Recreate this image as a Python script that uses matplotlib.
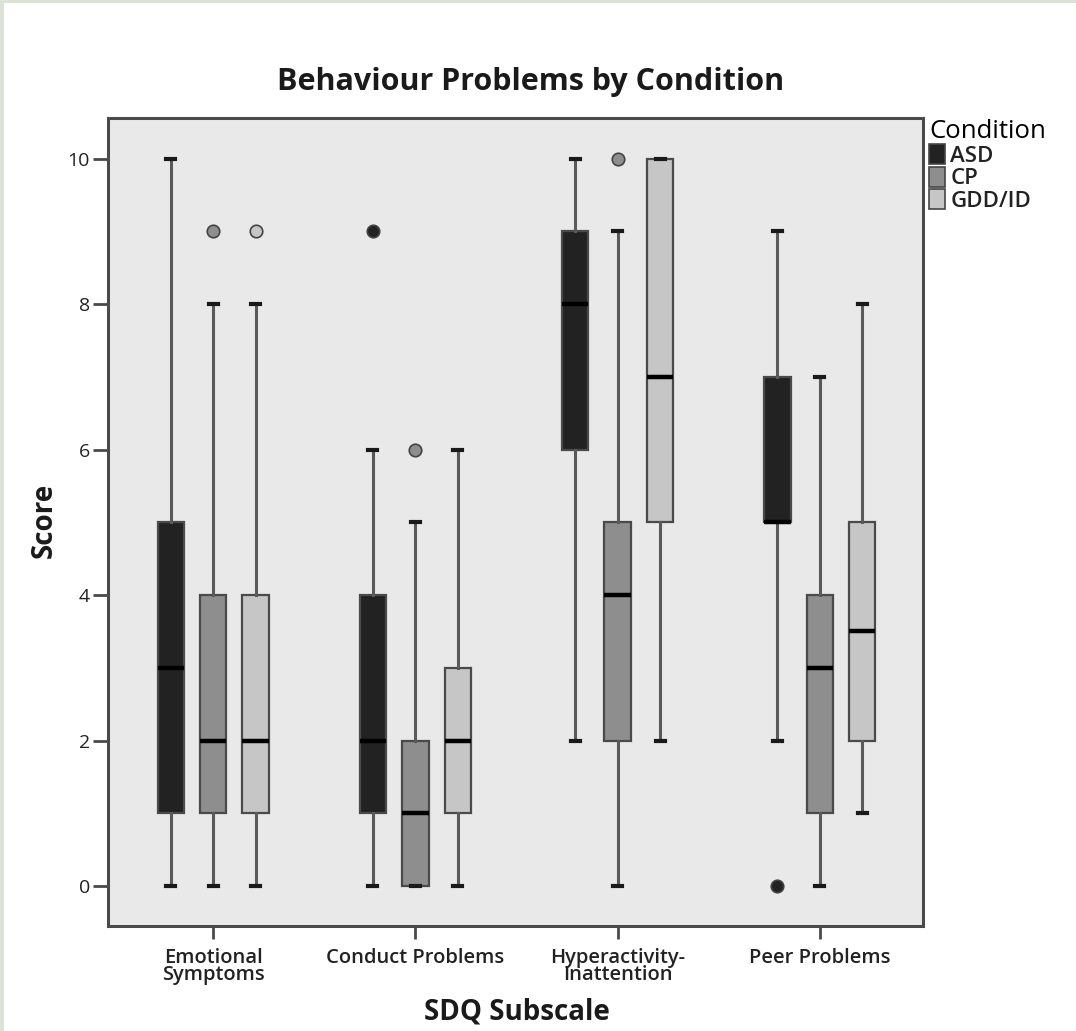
import matplotlib.pyplot as plt
from matplotlib.patches import Patch, Rectangle

plt.rcParams["font.family"] = ["Open Sans", "DejaVu Sans"]

SUBSCALES = ["Emotional\nSymptoms", "Conduct Problems", "Hyperactivity-\nInattention", "Peer Problems"]
CONDITIONS = ["ASD", "CP", "GDD/ID"]
COLORS = {"ASD": "#222222", "CP": "#8e8e8e", "GDD/ID": "#c6c6c6"}

# per condition, one value per subscale
WHISK_LO = {"ASD": [0, 0, 2, 2], "CP": [0, 0, 0, 0], "GDD/ID": [0, 0, 2, 1]}
Q1 = {"ASD": [1, 1, 6, 5], "CP": [1, 0, 2, 1], "GDD/ID": [1, 1, 5, 2]}
MEDIAN = {"ASD": [3, 2, 8, 5], "CP": [2, 1, 4, 3], "GDD/ID": [2, 2, 7, 3.5]}
Q3 = {"ASD": [5, 4, 9, 7], "CP": [4, 2, 5, 4], "GDD/ID": [4, 3, 10, 5]}
WHISK_HI = {"ASD": [10, 6, 10, 9], "CP": [8, 5, 9, 7], "GDD/ID": [8, 6, 10, 8]}
OUTLIERS = {"ASD": [[], [9], [], [0]], "CP": [[9], [6], [10], []], "GDD/ID": [[9], [], [], []]}

OFFSETS = [-0.21, 0.0, 0.21]

fig = plt.figure(figsize=(10.76, 10.31), dpi=100)
ax = fig.add_axes([108 / 1076, 1 - 926 / 1031, 815 / 1076, 808 / 1031])
ax.set_facecolor("#e9e9e9")

for cond, off in zip(CONDITIONS, OFFSETS):
    stats = []
    for i in range(len(SUBSCALES)):
        stats.append({
            "whislo": WHISK_LO[cond][i], "q1": Q1[cond][i], "med": MEDIAN[cond][i],
            "q3": Q3[cond][i], "whishi": WHISK_HI[cond][i], "fliers": OUTLIERS[cond][i],
        })
    ax.bxp(
        stats, positions=[i + off for i in range(len(SUBSCALES))], widths=0.13,
        capwidths=0.045, patch_artist=True, manage_ticks=False,
        boxprops=dict(facecolor=COLORS[cond], edgecolor="#4a4a4a", linewidth=1.6),
        medianprops=dict(color="black", linewidth=3.2, solid_capstyle="butt"),
        whiskerprops=dict(color="#5a5a5a", linewidth=2.2),
        capprops=dict(color="#1a1a1a", linewidth=3),
        flierprops=dict(marker="o", markersize=9, markerfacecolor=COLORS[cond],
                        markeredgecolor="#444444", markeredgewidth=1.2),
    )

ax.set_xlim(-0.52, 3.51)
ax.set_ylim(-0.55, 10.56)
ax.set_xticks(range(len(SUBSCALES)))
ax.set_xticklabels(SUBSCALES, fontsize=14.5, linespacing=0.8, color="#222222",
                   fontweight="semibold")
ax.set_yticks([0, 2, 4, 6, 8, 10])
ax.set_yticklabels(["0", "2", "4", "6", "8", "10"], fontsize=14, color="#222222")
ax.tick_params(axis="y", length=11, width=2, color="#4a4a4a", pad=2)
ax.tick_params(axis="x", length=9, width=2, color="#4a4a4a", pad=7)
for s in ax.spines.values():
    s.set_color("#4a4a4a")
    s.set_linewidth(2.2)

fig.text(531 / 1076, 1 - 82 / 1031, "Behaviour Problems by Condition", ha="center", va="center",
         fontsize=22, fontweight="bold", color="#1a1a1a")
fig.text(517 / 1076, 1 - 1012 / 1031, "SDQ Subscale", ha="center", va="center",
         fontsize=20, fontweight="bold", color="#1a1a1a")
fig.text(44 / 1076, 1 - 520 / 1031, "Score", ha="center", va="center", rotation=90,
         fontsize=20, fontweight="bold", color="#1a1a1a")

handles = [Patch(facecolor=COLORS[c], edgecolor="#444444", linewidth=1.2) for c in CONDITIONS]
leg = fig.legend(handles, CONDITIONS, title="Condition", loc="upper left",
                 bbox_to_anchor=(926 / 1076, 1 - 116 / 1031), frameon=False,
                 fontsize=16, title_fontsize=18.5, handlelength=0.7, handleheight=1.0,
                 handletextpad=0.25, labelspacing=0.0, borderpad=0.15, borderaxespad=0)
leg._legend_box.align = "left"
for t in leg.get_texts():
    t.set_color("#222222")
    t.set_fontweight("semibold")

# light green frame at top and left edge
fig.patches.append(Rectangle((0, 1 - 3 / 1031), 1, 3 / 1031, transform=fig.transFigure,
                             facecolor="#dce2d5", edgecolor="none"))
fig.patches.append(Rectangle((0, 0), 4 / 1076, 1, transform=fig.transFigure,
                             facecolor="#dce2d5", edgecolor="none"))

fig.savefig("out.png", dpi=100)
